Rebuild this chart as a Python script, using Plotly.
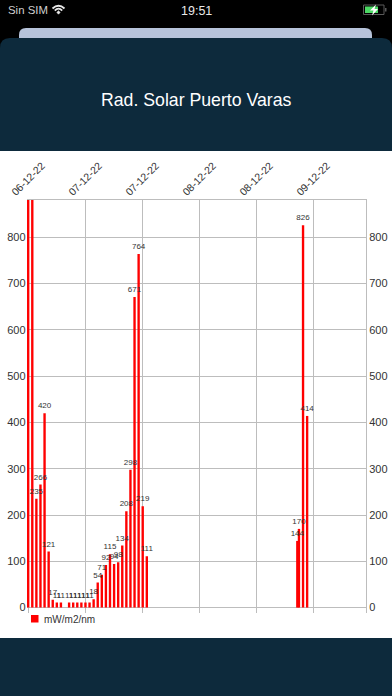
import plotly.graph_objects as go

# ---- data ----
positions = [0, 1, 2, 3, 4, 5, 6, 7, 8,
             10, 11, 12, 13, 14, 15, 16, 17, 18, 19,
             20, 21, 22, 23, 24, 25, 26, 27, 28, 29,
             65.8, 66.2, 67.2, 68.2]
values = [950, 950, 235, 266, 420, 121, 17, 11, 11,
          11, 11, 11, 11, 11, 11, 18, 54, 71, 92,
          115, 94, 98, 134, 208, 298, 671, 764, 219, 111,
          144, 170, 826, 414]
tick_positions = [0, 13.94, 27.88, 41.82, 55.76, 69.7]
tick_labels = ["06-12-22", "07-12-22", "07-12-22", "08-12-22", "08-12-22", "09-12-22"]
y_ticks = [0, 100, 200, 300, 400, 500, 600, 700, 800]
series_name = "mW/m2/nm"
title_text = "Rad. Solar Puerto Varas"

W, H = 392, 696
NAVY = "#0D2A3C"
GRID = "#BDBDBD"
FONT = "Liberation Sans, Arial, sans-serif"


def px(x, y):
    return f"{x / W:.5f},{1 - y / H:.5f}"


def round_rect(x0, y0, x1, y1, r):
    p = f"M {px(x0, y1)} L {px(x0, y0 + r)} Q {px(x0, y0)} {px(x0 + r, y0)} "
    p += f"L {px(x1 - r, y0)} Q {px(x1, y0)} {px(x1, y0 + r)} L {px(x1, y1)} Z"
    return p


def path_shape(path, fill="rgba(0,0,0,0)", line=None, width=0):
    return dict(type="path", xref="paper", yref="paper", layer="below", path=path,
                fillcolor=fill, line=dict(color=line or "rgba(0,0,0,0)", width=width))


def rect_shape(x0, y0, x1, y1, fill, layer="below", line=None, width=0):
    return dict(type="rect", xref="paper", yref="paper", layer=layer,
                x0=x0 / W, x1=x1 / W, y0=1 - y0 / H, y1=1 - y1 / H,
                fillcolor=fill, line=dict(color=line or "rgba(0,0,0,0)", width=width))


shapes = [
    path_shape(round_rect(19, 28, 372, 40, 7), fill="#B6C3DA"),
    path_shape(round_rect(0, 38, 392, 151, 10), fill=NAVY),
    rect_shape(0, 151, 392, 638, "#FFFFFF"),
    rect_shape(0, 638, 392, 696, NAVY),
    # legend swatch
    rect_shape(31, 615, 38.5, 622.5, "#FF0000"),
    # wifi glyph
    path_shape(f"M {px(52.5, 8.5)} Q {px(58.5, 3)} {px(64.5, 8.5)}", line="#E8E8E8", width=1.8),
    path_shape(f"M {px(54.8, 10.6)} Q {px(58.5, 6.8)} {px(62.2, 10.6)}", line="#E8E8E8", width=1.8),
    path_shape(f"M {px(56.8, 12.4)} L {px(58.5, 10.8)} L {px(60.2, 12.4)} L {px(58.5, 14.2)} Z",
               fill="#E8E8E8", line="#E8E8E8", width=0.6),
    # battery glyph
    rect_shape(363.5, 5, 384, 14.5, "rgba(0,0,0,0)", line="#5A5A5A", width=1),
    rect_shape(385, 8, 386.5, 11.5, "#5A5A5A"),
    rect_shape(365, 6.5, 378, 13, "#4CD964"),
    path_shape(f"M {px(376, 4.5)} L {px(370, 10.5)} L {px(373.5, 10.5)} L {px(372, 15.5)} "
               f"L {px(378, 9)} L {px(374.5, 9)} Z", fill="#FFFFFF"),
]

annotations = [
    dict(text=title_text, x=196 / W, y=1 - 100 / H, font=dict(size=17.7, color="#FFFFFF", family=FONT)),
    dict(text="Sin SIM", x=5.5 / W, y=1 - 10.5 / H, xanchor="left", font=dict(size=11.4, color="#D0D0D0", family=FONT)),
    dict(text="19:51", x=196 / W, y=1 - 11 / H, font=dict(size=12.5, color="#E8E8E8", family=FONT)),
    dict(text=series_name, x=41.5 / W, y=1 - 619.5 / H, xanchor="left", font=dict(size=10, color="#333333", family=FONT)),
]
for a in annotations:
    a.update(xref="paper", yref="paper", showarrow=False)
    a.setdefault("xanchor", "center")
    a["yanchor"] = "middle"

fig = go.Figure()
fig.add_trace(go.Bar(x=positions, y=values, width=0.58, name=series_name,
                     marker=dict(color="#FF0000", line=dict(width=0)),
                     showlegend=False, hoverinfo="x+y"))
fig.add_trace(go.Scatter(x=positions, y=values, mode="markers+text", text=[str(v) for v in values],
                         marker=dict(size=3, opacity=0),
                         textposition="top center", yaxis="y2", showlegend=False,
                         textfont=dict(size=8, color="#333333", family=FONT), hoverinfo="skip"))

x_unit = 4.09
x_left, x_right = 26.5, 366
x0_px = 28.2
y_range = [-11.7, 880.5]
dom_y = [1 - 613 / H, 1 - 200 / H]

fig.update_layout(
    width=W, height=H, margin=dict(l=0, r=0, t=0, b=0, pad=0), autosize=False,
    paper_bgcolor="#000000", plot_bgcolor="rgba(0,0,0,0)",
    barmode="overlay", showlegend=False, font=dict(family=FONT),
    shapes=shapes, annotations=annotations,
    xaxis=dict(domain=[x_left / W, x_right / W], side="top", automargin=False,
               range=[(x_left - x0_px) / x_unit, (x_right - x0_px) / x_unit],
               tickmode="array", tickvals=tick_positions, ticktext=tick_labels,
               tickangle=-45, ticklabelshift=-16, ticklabelstandoff=-3, ticks="",
               tickfont=dict(size=10.5, color="#333333", family=FONT),
               showgrid=True, gridcolor=GRID, gridwidth=1, zeroline=False,
               showline=True, linecolor=GRID, linewidth=1),
    yaxis=dict(domain=dom_y, range=y_range, tickmode="array", tickvals=y_ticks, automargin=False,
               tickfont=dict(size=11, color="#333333", family=FONT), ticks="",
               showgrid=True, gridcolor=GRID, gridwidth=1, zeroline=False, showline=False),
    yaxis2=dict(overlaying="y", side="right", anchor="x", range=y_range, tickmode="array", automargin=False,
                tickvals=y_ticks, tickfont=dict(size=11, color="#333333", family=FONT), ticks="",
                showgrid=False, zeroline=False, showline=True, linecolor=GRID, linewidth=1),
)

fig.write_html("out.html", config={"displayModeBar": False},
               post_script="document.documentElement.style.overflow='hidden';document.body.style.margin='0';")
